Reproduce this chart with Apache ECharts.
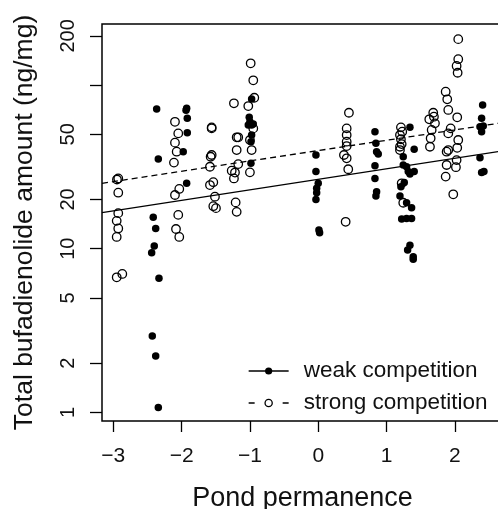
<!DOCTYPE html>
<html>
<head>
<meta charset="utf-8">
<script src="https://cdn.jsdelivr.net/npm/echarts@6/dist/echarts.min.js"></script>
<style>
html,body{margin:0;padding:0;background:#fff;}
#chart{width:498px;height:509px;}
</style>
</head>
<body>
<div id="chart"></div>
<script>
// Tick values
const xTicks = [-3, -2, -1, 0, 1, 2];
const yTicks = [1, 2, 5, 10, 20, 50, 100, 200];
const yTickLabels = [1, 2, 5, 10, 20, 50, 200];

// Weak competition (filled points)
const weakX = [
  -2.365, -2.341, -2.415, -2.379, -2.400, -2.438, -2.331, -2.429, -2.379, -2.341,
  -1.926, -1.935, -1.917, -1.917, -1.976, -1.926,
  -0.975, -1.010, -1.000, -0.975, -0.951, -1.024, -0.975, -0.985, -0.985,
  -0.034, -0.034, 0.000, -0.023, -0.023, -0.034, 0.010, 0.020,
  0.830, 0.844, 0.854, 0.878, 0.830, 0.830, 0.854, 0.844,
  1.342, 1.404, 1.244, 1.244, 1.293, 1.317, 1.342, 1.404, 1.259, 1.210,
  1.196, 1.293, 1.366, 1.221, 1.293, 1.366, 1.342, 1.308, 1.390, 1.390,
  2.406, 2.391, 2.367, 2.415, 2.391, 2.367, 2.391, 2.425
];
const weakY = [
  71.4, 35.3, 15.6, 13.3, 10.4, 9.45, 6.6, 2.93, 2.21, 1.07,
  72.1, 70.3, 62.7, 51.2, 39.2, 25.1,
  82.2, 63.6, 59.7, 57.0, 57.8, 57.0, 49.5, 45.1, 33.3,
  37.4, 29.6, 25.1, 23.4, 22.0, 20.0, 13.0, 12.5,
  51.9, 44.1, 39.2, 37.9, 32.2, 26.9, 22.3, 21.0,
  55.2, 40.5, 36.5, 32.5, 31.7, 29.6, 28.6, 29.6, 25.4, 23.9,
  21.0, 19.1, 17.8, 15.2, 15.3, 15.3, 10.5, 9.82, 8.94, 8.61,
  75.6, 62.7, 55.6, 56.2, 51.9, 36.0, 29.2, 29.6
];

// Strong competition (open points)
const strongX = [
  -2.927, -2.946, -2.927, -2.927, -2.950, -2.927, -2.950, -2.950, -2.868,
  -2.097, -2.049, -2.097, -2.072, -2.112, -2.034, -2.097, -2.049, -2.082, -2.034,
  -1.560, -1.560, -1.575, -1.560, -1.585, -1.585, -1.536, -1.512, -1.536, -1.497,
  -1.234, -1.194, -1.171, -1.194, -1.171, -1.267, -1.219, -1.234, -1.209, -1.194,
  -0.989, -0.951, -0.936, -1.024, -0.951, -1.000, -0.975, -1.000,
  0.449, 0.416, 0.416, 0.416, 0.416, 0.376, 0.416, 0.439, 0.401,
  1.210, 1.229, 1.196, 1.210, 1.221, 1.196, 1.196, 1.221, 1.244,
  1.625, 1.683, 1.693, 1.708, 1.660, 1.645, 1.635,
  1.865, 1.888, 1.903, 2.034, 1.938, 1.903, 2.049, 2.034, 1.903, 1.879,
  2.025, 1.879, 2.015, 1.865, 1.976, 2.049, 2.049, 2.025, 2.040
];
const strongY = [
  26.9, 26.5, 22.0, 16.5, 14.8, 13.3, 11.8, 6.69, 7.01,
  59.7, 50.7, 44.5, 39.2, 33.6, 23.2, 21.3, 16.1, 13.2, 11.8,
  55.2, 54.4, 36.5, 37.4, 31.7, 24.5, 25.5, 20.8, 18.2, 17.7,
  77.4, 48.0, 48.0, 40.1, 32.9, 30.0, 29.2, 26.9, 19.2, 16.8,
  136, 107, 83.7, 74.5, 54.4, 46.2, 40.1, 29.3,
  67.8, 54.4, 49.5, 45.1, 42.4, 37.4, 35.7, 30.6, 14.6,
  55.2, 51.9, 49.5, 46.7, 43.6, 42.0, 40.1, 25.1, 19.1,
  61.8, 67.8, 64.1, 58.4, 53.2, 47.3, 42.0,
  91.2, 81.9, 70.5, 63.6, 54.4, 50.7, 46.2, 41.4, 40.1, 39.2,
  34.8, 32.5, 31.5, 27.6, 21.5, 191, 144, 131, 119
];

// Fitted lines (end points at the plot edges)
const fitX = [-3.165, 2.704];
const weakFit = [16.6, 39.6];
const strongFit = [25.1, 59.0];

const zip = (xs, ys) => xs.map((x, i) => [x, ys[i]]);
const FONT = '"Liberation Sans", Arial, Helvetica, sans-serif';
const minusFmt = v => (v < 0 ? '\u2212' + Math.abs(v) : String(v));

const chart = echarts.init(document.getElementById('chart'), null, {renderer: 'canvas'});
chart.setOption({
  animation: false,
  backgroundColor: '#fff',
  textStyle: {fontFamily: FONT, color: '#000'},
  grid: {
    left: 102, top: 24, right: -5, bottom: 88,
    containLabel: false, outerBoundsMode: 'none',
    show: true, borderColor: '#000', borderWidth: 1.5, backgroundColor: 'transparent'
  },
  xAxis: {
    type: 'value', min: -3.165, max: 2.704,
    axisLine: {show: false, onZero: false},
    splitLine: {show: false},
    axisTick: {show: true, inside: false, length: 11, customValues: xTicks,
      lineStyle: {color: '#000', width: 1.3}},
    axisLabel: {customValues: xTicks, formatter: minusFmt, margin: 25,
      fontSize: 21, color: '#111', fontFamily: FONT},
    name: 'Pond permanence', nameLocation: 'middle', nameGap: 64,
    nameTextStyle: {fontSize: 27, color: '#111', fontFamily: FONT}
  },
  yAxis: {
    type: 'log', logBase: 10, min: 0.885, max: 236.4,
    axisLine: {show: false, onZero: false},
    splitLine: {show: false},
    axisTick: {show: true, inside: false, length: 12, customValues: yTicks,
      lineStyle: {color: '#000', width: 1.3}},
    axisLabel: {customValues: yTickLabels, rotate: 90, margin: 24,
      fontSize: 20, color: '#111', fontFamily: FONT},
    name: 'Total bufadienolide amount (ng/mg)', nameLocation: 'middle', nameGap: 64,
    nameTextStyle: {fontSize: 26.5, color: '#111', fontFamily: FONT}
  },
  legend: {
    orient: 'vertical', left: 243, top: 354,
    itemWidth: 40, itemHeight: 9, itemGap: 8,
    selectedMode: false,
    textStyle: {fontSize: 22.5, color: '#111', fontFamily: FONT, lineHeight: 24, padding: [0, 0, 0, 10]},
    data: [
      {name: 'weak competition',
       itemStyle: {color: '#000', borderWidth: 0},
       lineStyle: {color: '#000', width: 1.3, type: 'solid'}},
      {name: 'strong competition',
       itemStyle: {color: 'transparent', borderColor: '#000', borderWidth: 1.3},
       lineStyle: {color: '#000', width: 1.3, type: [6, 28]}}
    ]
  },
  series: [
    {
      name: 'weak competition', type: 'line', data: zip(fitX, weakFit),
      symbol: 'circle', showSymbol: false, clip: true, z: 3,
      lineStyle: {color: '#000', width: 1.3, type: 'solid'},
      itemStyle: {color: '#000'}
    },
    {
      name: 'strong competition', type: 'line', data: zip(fitX, strongFit),
      symbol: 'circle', showSymbol: false, clip: true, z: 3,
      lineStyle: {color: '#000', width: 1.3, type: [6, 4]},
      itemStyle: {color: 'transparent', borderColor: '#000', borderWidth: 1.3}
    },
    {
      name: 'weak competition', type: 'scatter', data: zip(weakX, weakY),
      symbol: 'circle', symbolSize: 7.5, z: 2,
      itemStyle: {color: '#000', opacity: 1}
    },
    {
      name: 'strong competition', type: 'scatter', data: zip(strongX, strongY),
      symbol: 'circle', symbolSize: 8.5, z: 2,
      itemStyle: {color: 'transparent', borderColor: '#000', borderWidth: 1.3, opacity: 1}
    }
  ]
});
</script>
</body>
</html>
